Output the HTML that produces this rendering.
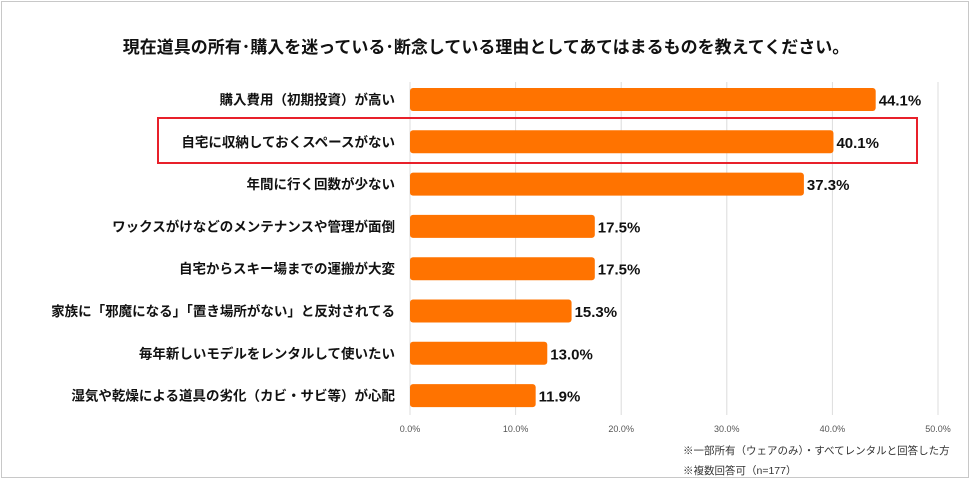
<!DOCTYPE html>
<html><head><meta charset="utf-8">
<style>
body{margin:0;background:#fff;}
#wrap{position:relative;width:972px;height:483px;overflow:hidden;font-family:"Liberation Sans","Noto Sans CJK JP",sans-serif;}
#frame{position:absolute;left:1px;top:1px;width:968px;height:477px;border:1px solid #c8c8c8;box-sizing:border-box;}
</style></head>
<body>
<div id="wrap">
<div id="frame"></div>
<svg id="chart" width="972" height="483" style="position:absolute;left:0;top:0">
<text x="486" y="53" text-anchor="middle" font-size="17" font-weight="bold" fill="#111">現在道具の所有･購入を迷っている･断念している理由としてあてはまるものを教えてください。</text>
<g id="grid"></g><g id="bars"></g>
<rect x="158" y="118" width="759" height="45" fill="none" stroke="#e8202a" stroke-width="2"/>
<text x="683" y="454" font-size="10.5" fill="#333">※一部所有（ウェアのみ）・すべてレンタルと回答した方</text>
<text x="683" y="474" font-size="10.5" fill="#333">※複数回答可（n=177）</text>
</svg>
</div>
<script>
const categories=["購入費用（初期投資）が高い","自宅に収納しておくスペースがない","年間に行く回数が少ない","ワックスがけなどのメンテナンスや管理が面倒","自宅からスキー場までの運搬が大変","家族に「邪魔になる」「置き場所がない」と反対されてる","毎年新しいモデルをレンタルして使いたい","湿気や乾燥による道具の劣化（カビ・サビ等）が心配"];
const values=[44.1,40.1,37.3,17.5,17.5,15.3,13.0,11.9];
const ticks=[0,10,20,30,40,50];
const NS="http://www.w3.org/2000/svg";
const x0=410,x1=938,vmax=50,yTop=88,pitch=42.3,bh=23;
const xs=v=>x0+(x1-x0)*v/vmax;
const grid=document.getElementById('grid'),bars=document.getElementById('bars');
function mk(tag,attrs,parent){const e=document.createElementNS(NS,tag);for(const k in attrs)e.setAttribute(k,attrs[k]);parent.appendChild(e);return e;}
ticks.forEach(t=>{
  const l=mk('line',{x1:xs(t),x2:xs(t),y1:82,y2:415,stroke:'#dcdcdc','stroke-width':1},grid);
  
  
  const tx=mk('text',{x:xs(t),y:432,'text-anchor':'middle','font-size':9,fill:'#555'},grid);
  tx.textContent=t.toFixed(1)+'%';
  
  
});
categories.forEach((c,i)=>{
  const y=yTop+i*pitch;
  const r=mk('rect',{x:x0,y:y,width:xs(values[i])-x0,height:bh,rx:3,fill:'#ff7300'},bars);
  
  
  const lb=mk('text',{x:395,y:y+bh/2+5,'text-anchor':'end','font-size':13.5,'font-weight':'bold',fill:'#111'},bars);
  lb.textContent=c;
  
  
  const vl=mk('text',{x:xs(values[i])+3,y:y+bh/2+6,'font-size':15,'font-weight':'bold',fill:'#111'},bars);
  vl.textContent=values[i].toFixed(1)+'%';
  
  
});
</script>
</body></html>
